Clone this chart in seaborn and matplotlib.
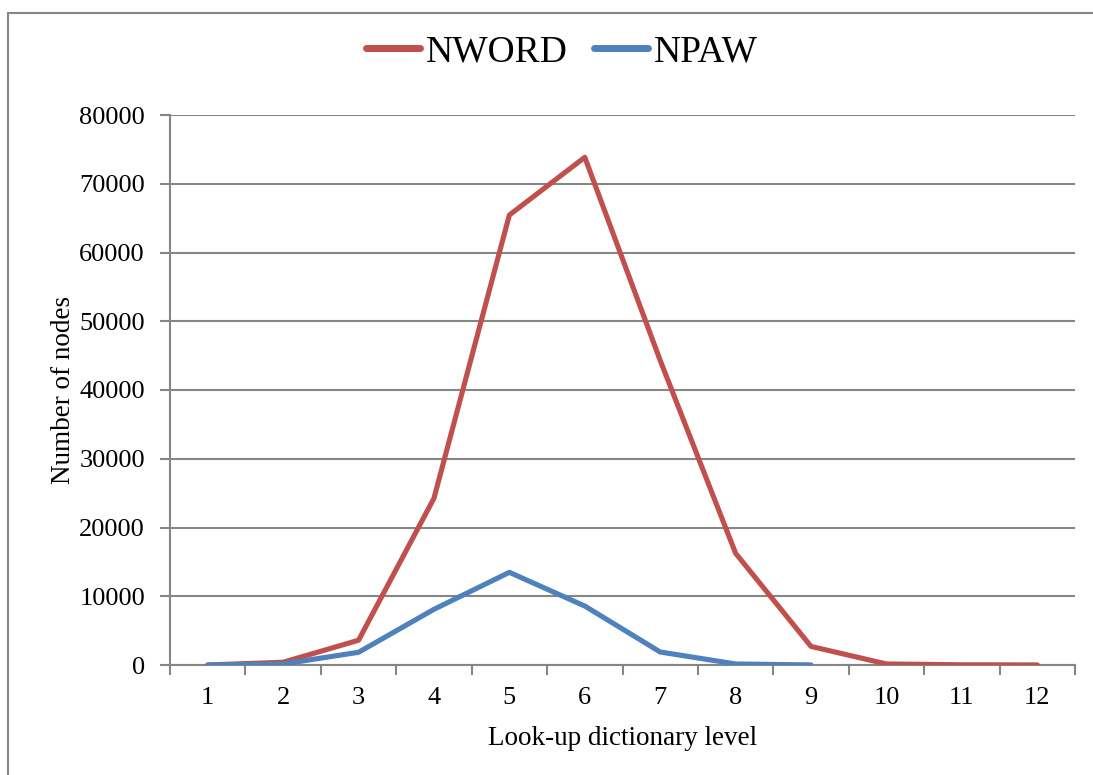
import matplotlib
matplotlib.use('Agg')
import matplotlib.pyplot as plt
from matplotlib.patches import Rectangle
from matplotlib.ticker import MultipleLocator, FixedLocator
import seaborn as sns
import pandas as pd

# look-up dictionary levels and node counts per level
levels = [1, 2, 3, 4, 5, 6, 7, 8, 9, 10, 11, 12]
nword = [0, 400, 3600, 24250, 65450, 73850, 44300, 16250, 2700, 150, 30, 10]
npaw_levels = [1, 2, 3, 4, 5, 6, 7, 8, 9]
npaw = [0, 150, 1850, 8100, 13480, 8580, 1890, 150, 10]
yticks = [0, 10000, 20000, 30000, 40000, 50000, 60000, 70000, 80000]

red = '#C0504D'
blue = '#4F81BD'
gray = '#868686'

df = pd.concat([
    pd.DataFrame({'level': levels, 'nodes': nword, 'series': 'NWORD'}),
    pd.DataFrame({'level': npaw_levels, 'nodes': npaw, 'series': 'NPAW'}),
])

sns.set_style('white')
plt.rcParams['font.family'] = ['Liberation Serif', 'DejaVu Serif']
plt.rcParams['text.color'] = 'black'
plt.rcParams['axes.labelcolor'] = 'black'
plt.rcParams['xtick.labelcolor'] = 'black'
plt.rcParams['ytick.labelcolor'] = 'black'

fig = plt.figure(figsize=(10.93, 7.75), dpi=100)
ax = fig.add_axes([170/1093, 1-665/775, 905/1093, 550/775])

sns.lineplot(data=df, x='level', y='nodes', hue='series',
             palette={'NWORD': red, 'NPAW': blue}, linewidth=3.7,
             ax=ax, legend=False, sort=False)

ax.set_xlim(0.5, 12.5)
ax.set_ylim(0, 80000)
ax.yaxis.set_major_locator(FixedLocator(yticks))
ax.set_yticklabels([str(v) for v in yticks])
ax.xaxis.set_major_locator(FixedLocator(levels))
ax.set_xticklabels([str(v) for v in levels])
ax.xaxis.set_minor_locator(MultipleLocator(1, offset=0.5))
ax.tick_params(axis='x', which='major', length=0, pad=16, labelsize=19)
ax.tick_params(axis='x', which='minor', length=7, width=1.5, color=gray, direction='out')
ax.tick_params(axis='y', which='major', length=7, width=1.5, color=gray,
               direction='out', pad=11, labelsize=19)
ax.xaxis.set_ticks_position('bottom')
ax.yaxis.set_ticks_position('left')

ax.grid(axis='y', color=gray, linewidth=1.5)
ax.set_axisbelow(True)
for side in ['top', 'right']:
    ax.spines[side].set_visible(False)
for side in ['left', 'bottom']:
    ax.spines[side].set_color(gray)
    ax.spines[side].set_linewidth(1.5)
    ax.spines[side].set_zorder(0.5)

ax.set_xlabel('Look-up dictionary level', fontsize=19.5, labelpad=12)
ax.set_ylabel('Number of nodes', fontsize=19.5, labelpad=2)

handles = [plt.Line2D([], [], color=red, linewidth=5, solid_capstyle='round'),
           plt.Line2D([], [], color=blue, linewidth=5, solid_capstyle='round')]
fig.legend(handles, ['NWORD', 'NPAW'], loc='center', ncol=2,
           bbox_to_anchor=(562/1093, 1-52/775), frameon=False,
           fontsize=27, handlelength=1.45, handletextpad=0.15,
           columnspacing=0.7)

# chart area border (only top and left edges are inside the image)
fig.patches.append(Rectangle((8/1093, -0.2), 1.3, 1-13/775+0.2,
                             transform=fig.transFigure, fill=False,
                             edgecolor=gray, linewidth=1.5))

fig.savefig('out.png', dpi=100)
